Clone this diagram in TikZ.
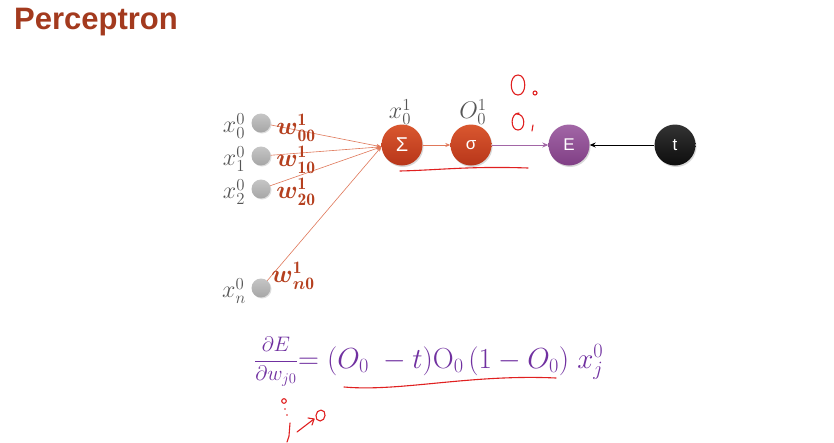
\documentclass[tikz,border=0pt]{standalone}
\usepackage{fix-cm}
\usepackage{fontspec}
\usepackage{amsmath}
\usetikzlibrary{shadows,arrows.meta}
\newfontfamily\titlefont{Liberation Sans}
\setsansfont{Liberation Sans}
\definecolor{titlered}{HTML}{A33A1E}
\definecolor{sumtop}{HTML}{D9572F}
\definecolor{sumbot}{HTML}{B8361A}
\definecolor{etop}{HTML}{A266A6}
\definecolor{ebot}{HTML}{803F85}
\definecolor{wred}{HTML}{B5401F}
\definecolor{edgered}{HTML}{E0785A}
\definecolor{eqpurple}{HTML}{7030A0}
\definecolor{pen}{HTML}{E02020}
\definecolor{xgray}{HTML}{555555}
\begin{document}
\begin{tikzpicture}[x=1pt,y=-1pt,
  inp/.style={circle, minimum size=19pt, inner sep=0pt, top color=gray!45, bottom color=gray!70,
    drop shadow={opacity=0.25, shadow xshift=1pt, shadow yshift=-1pt}},
  neur/.style={circle, minimum size=41pt, inner sep=0pt, text=white,
    font=\sffamily\fontsize{17}{17}\selectfont,
    drop shadow={opacity=0.3, shadow xshift=1pt, shadow yshift=-1.5pt}},
  rednode/.style={neur, top color=sumtop, bottom color=sumbot},
  purnode/.style={neur, top color=etop, bottom color=ebot},
  blknode/.style={neur, top color=black!80, bottom color=black!95},
  xlab/.style={text=xgray, font=\fontsize{24}{24}\selectfont, inner sep=0pt},
  wlab/.style={text=wred, font=\fontsize{25}{25}\selectfont, inner sep=0pt},
  inedge/.style={draw=edgered, line width=0.6pt, -{Stealth[length=5pt,width=4pt]}},
  penline/.style={draw=pen, line width=1.1pt, line cap=round, line join=round},
]
\useasboundingbox[fill=white] (0,0) rectangle (834,442);

\node[anchor=west, text=titlered, font=\titlefont\bfseries\fontsize{31}{31}\selectfont, inner sep=0pt] (title) at (14,22) {Perceptron};

% inputs
\node[inp] (x0) at (261,123) {};
\node[inp] (x1) at (261,156) {};
\node[inp] (x2) at (261,189) {};
\node[inp] (xn) at (261,288) {};

\node[xlab] (lx0) at (234,126) {$x_0^0$};
\node[xlab] (lx1) at (234,159) {$x_1^0$};
\node[xlab] (lx2) at (234,192) {$x_2^0$};
\node[xlab] (lxn) at (234,291) {$x_n^0$};

% neurons
\node[rednode, font=\sffamily\fontsize{20}{20}\selectfont] (sum) at (402,145) {Σ};
\node[rednode] (sig) at (471,145) {σ};
\node[purnode] (E) at (569,145) {E};
\node[blknode] (t) at (675,145) {t};

\node[xlab] (lsum) at (400,112) {$x_0^1$};
\node[xlab] (lsig) at (473,112) {$O_0^1$};

% edges
\draw[inedge] (x0) -- (sum.185);
\draw[inedge] (x1) -- (sum.185);
\draw[inedge] (x2) -- (sum.185);
\draw[inedge] (xn) -- (sum.185);
\draw[inedge] (sum) -- (sig);
\draw[draw=etop, line width=0.8pt, -{Stealth[length=6pt,width=5pt]}] (sig) -- (E);
\draw[draw=black, line width=0.8pt, -{Stealth[length=6pt,width=5pt]}] (t) -- (E);

% weights
\node[wlab] (w0) at (296,128) {$\boldsymbol{w}^{\mathbf{1}}_{\mathbf{00}}$};
\node[wlab] (w1) at (296,160) {$\boldsymbol{w}^{\mathbf{1}}_{\mathbf{10}}$};
\node[wlab] (w2) at (296,192) {$\boldsymbol{w}^{\mathbf{1}}_{\mathbf{20}}$};
\node[wlab] (wn) at (293,276) {$\boldsymbol{w}^{\mathbf{1}}_{\boldsymbol{n}\mathbf{0}}$};

% equation
\node[text=eqpurple, inner sep=0pt, font=\fontsize{21}{21}\selectfont] (frac) at (276,362) {$\dfrac{\partial E}{\partial w_{j0}}$};
\node[anchor=west, text=eqpurple, inner sep=0pt, font=\fontsize{29}{29}\selectfont] (rhs) at (frac.east) {$=(O_0\;-t)\mathrm{O}_0\,(1-O_0)\;x_j^0$};

% handwriting
\draw[penline] (518,75) .. controls (509,75) and (509,95) .. (518,95) .. controls (527,95) and (527,75) .. (518,75);
\draw[penline] (535,93) circle (2pt);
\draw[penline] (519,113) .. controls (510,113) and (510,130) .. (518,130) .. controls (526,130) and (526,113) .. (516,114);
\draw[penline] (533,125) -- (532,131);
\draw[penline] (400,171) .. controls (440,170) and (470,166) .. (528,168);
\draw[penline] (344,387) .. controls (400,392) and (470,374) .. (556,378);
\draw[penline] (284,401) circle (2.3pt);
\fill[pen] (285,409) circle (0.9pt);
\fill[pen] (287,415) circle (0.9pt);
\draw[penline] (290,423) -- (289,436) -- (287,442);
\draw[penline] (297,432) -- (314,419);
\draw[penline] (308,418) -- (314,419) -- (312,425);
\draw[penline] (321,410) .. controls (315,410) and (314,421) .. (320,421) .. controls (326,421) and (327,410) .. (321,410);
\end{tikzpicture}
\end{document}
